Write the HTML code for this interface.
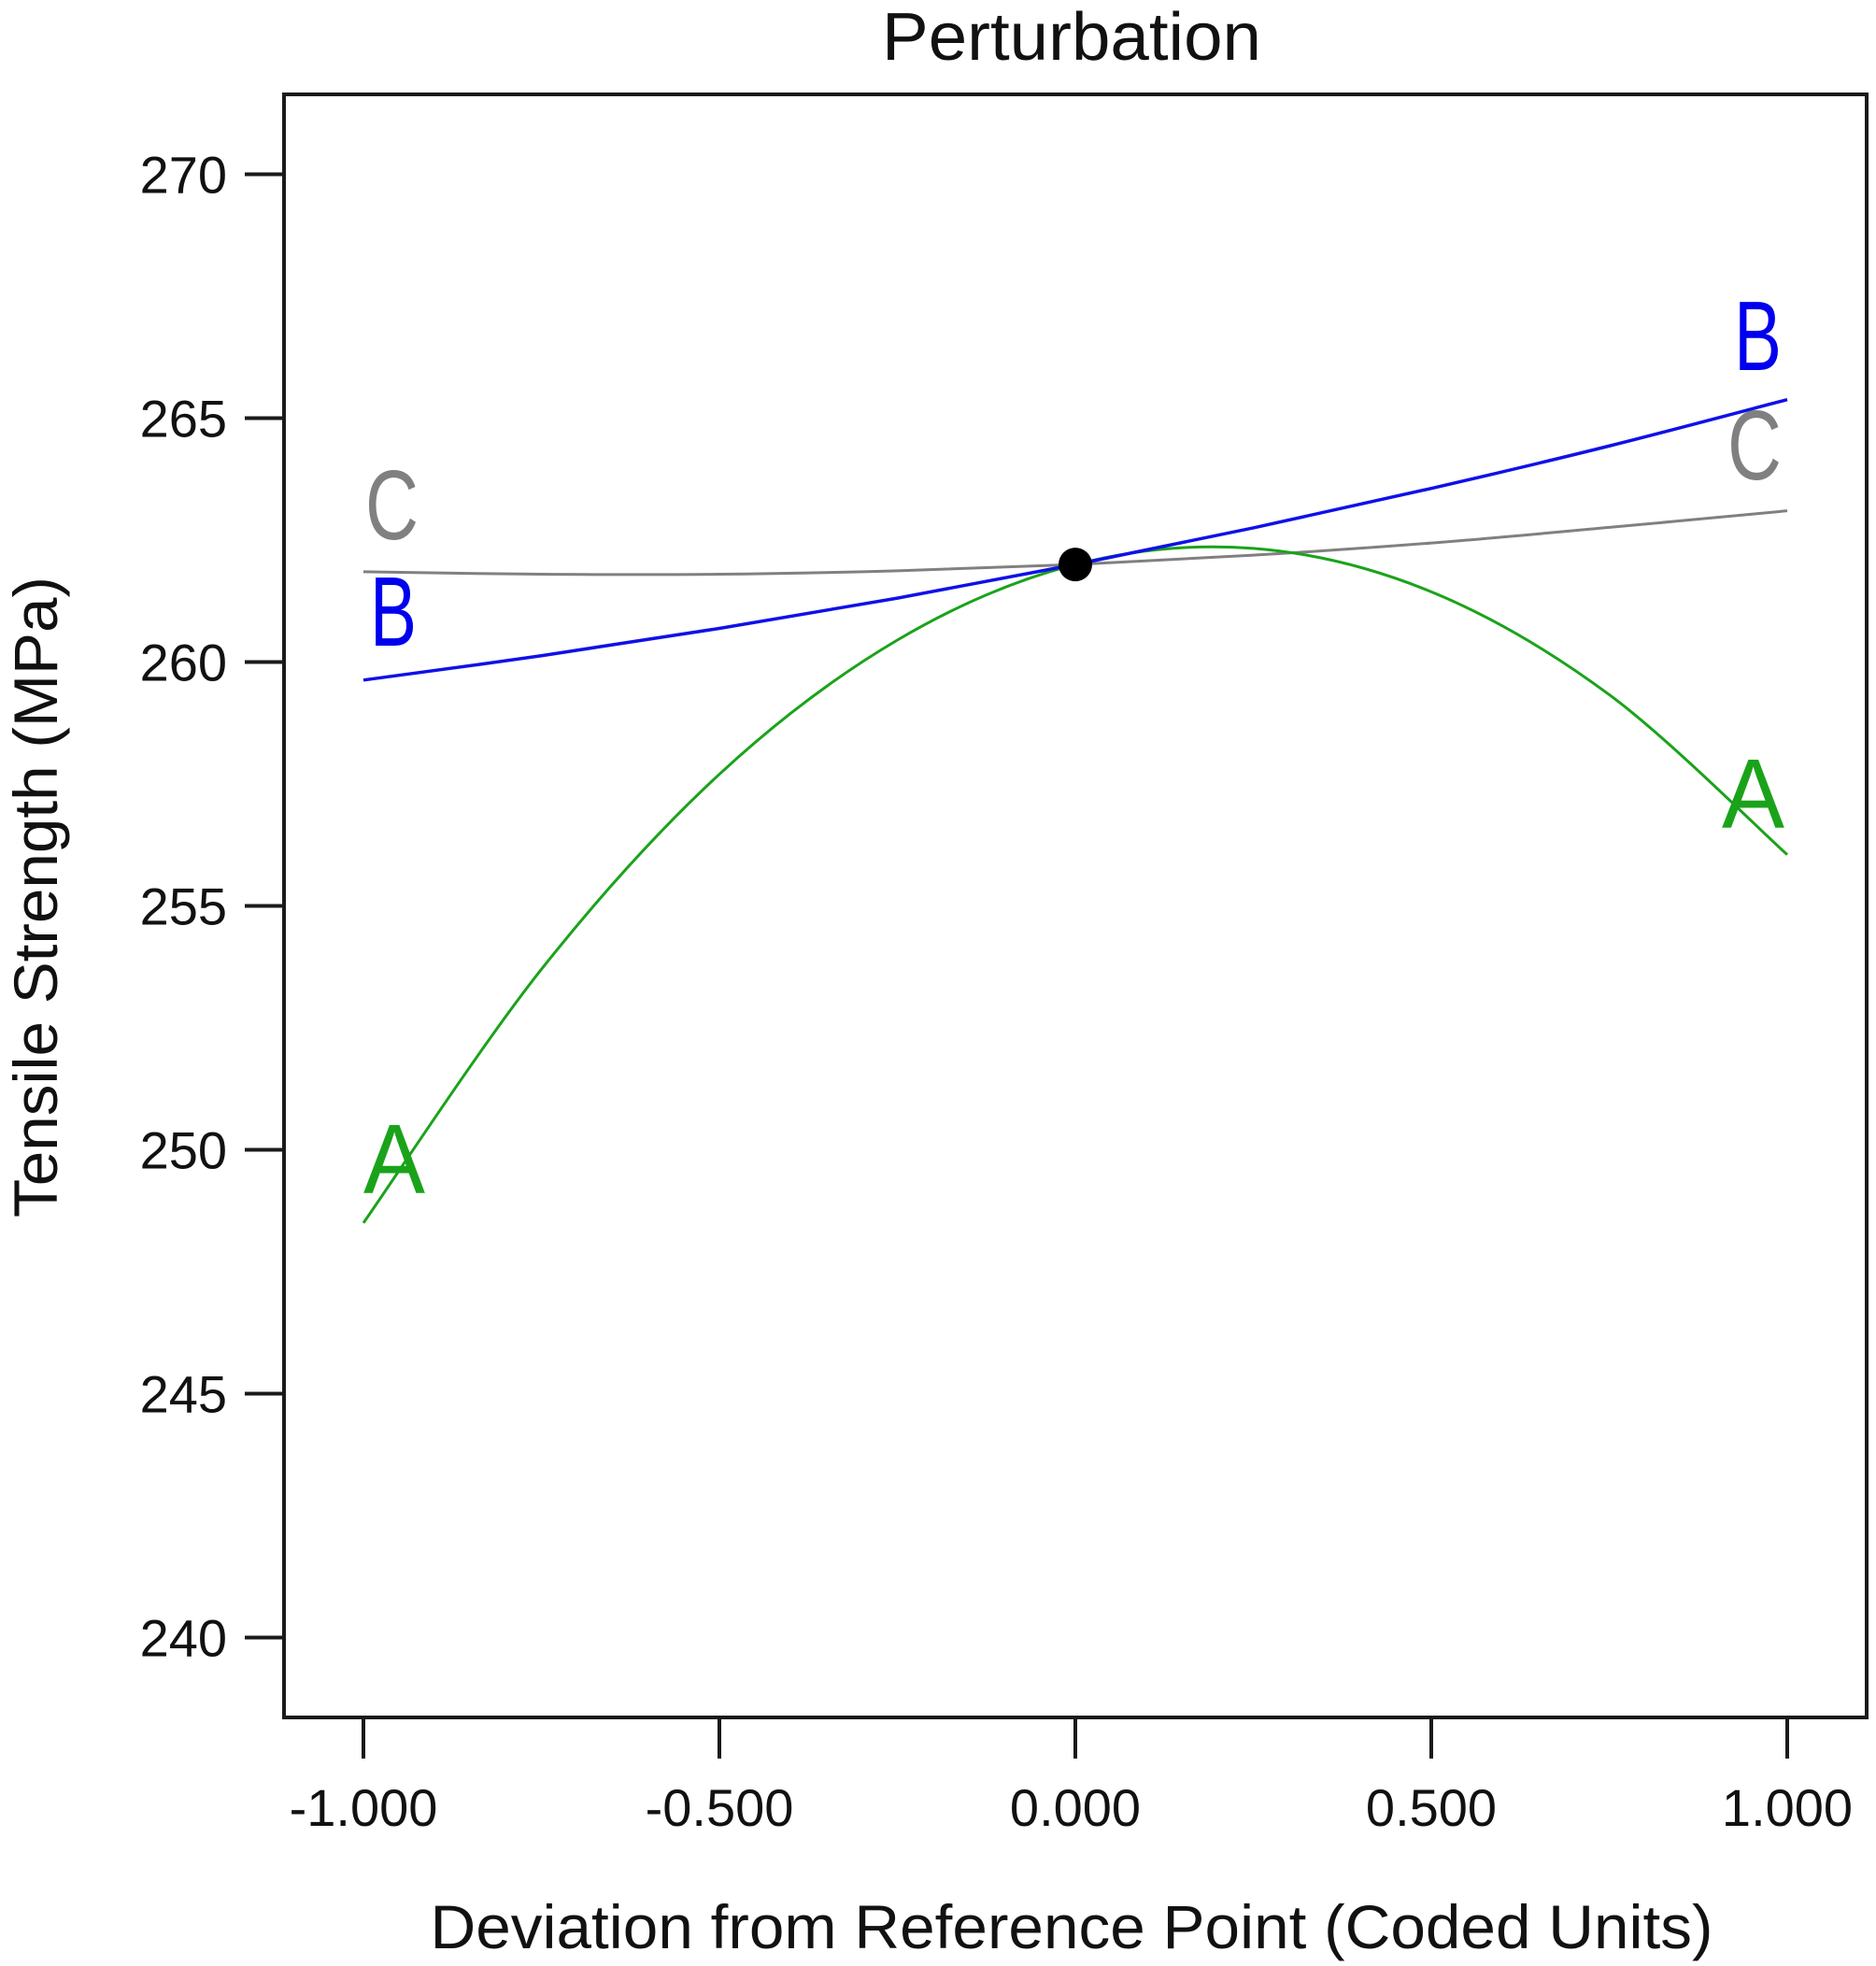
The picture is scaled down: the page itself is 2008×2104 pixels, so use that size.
<!DOCTYPE html>
<html><head><meta charset="utf-8"><style>
html,body{margin:0;padding:0;background:#fff;}
svg{display:block;}
text{font-family:"Liberation Sans",sans-serif;}
</style></head><body>
<svg id="chart" width="2008" height="2104" viewBox="0 0 2008 2104" xmlns="http://www.w3.org/2000/svg">
<rect x="0" y="0" width="2008" height="2104" fill="#fff"/>
<text x="1147" y="64" text-anchor="middle" font-size="72" fill="#111" textLength="406" lengthAdjust="spacingAndGlyphs">Perturbation</text>
<rect x="304" y="101" width="1694" height="1737" fill="none" stroke="#1a1a1a" stroke-width="4"/>
<g id="axes"></g>
<g id="series"></g>
<text transform="translate(61,960) rotate(-90)" text-anchor="middle" font-size="66" fill="#111" textLength="686" lengthAdjust="spacingAndGlyphs">Tensile Strength (MPa)</text>
<text x="1147" y="2085" text-anchor="middle" font-size="66" fill="#111" textLength="1373" lengthAdjust="spacingAndGlyphs">Deviation from Reference Point (Coded Units)</text>
</svg>
<script>
const xValues = [-1, -0.75, -0.5, -0.25, 0, 0.25, 0.5, 0.75, 1];
const seriesA = [248.5, 253.7, 257.7, 260.45, 262.0, 262.33, 261.44, 259.33, 256.05];
const seriesB = [259.63, 260.13, 260.69, 261.31, 262.0, 262.75, 263.56, 264.43, 265.38];
const seriesC = [261.85, 261.8, 261.8, 261.87, 262.0, 262.19, 262.44, 262.76, 263.1];
const xTicks = [-1, -0.5, 0, 0.5, 1];
const xTickLabels = ["-1.000", "-0.500", "0.000", "0.500", "1.000"];
const yTicks = [270, 265, 260, 255, 250, 245, 240];
const yTickLabels = ["270", "265", "260", "255", "250", "245", "240"];
const refPoint = [0, 262.0];

const NS = "http://www.w3.org/2000/svg";
function xs(v){ return 1151 + v * 762; }
function ys(v){ return 186.5 + (270 - v) * 52.2; }
function mk(tag, attrs, parent){
  const e = document.createElementNS(NS, tag);
  for (const k in attrs) e.setAttribute(k, attrs[k]);
  parent.appendChild(e);
  return e;
}
const axes = document.getElementById('axes');
const ser = document.getElementById('series');

xTicks.forEach((t, i) => {
  const l = mk('line', {x1: xs(t), x2: xs(t), y1: 1838, y2: 1882, stroke: '#1a1a1a', 'stroke-width': 4}, axes);
  
  
  const tx = mk('text', {x: xs(t), y: 1954, 'text-anchor': 'middle', 'font-size': 56, fill: '#111'}, axes);
  tx.textContent = xTickLabels[i];
  
  
});
yTicks.forEach((t, i) => {
  const l = mk('line', {x1: 262, x2: 304, y1: ys(t), y2: ys(t), stroke: '#1a1a1a', 'stroke-width': 4}, axes);
  
  
  const tx = mk('text', {x: 243, y: ys(t) + 20, 'text-anchor': 'end', 'font-size': 56, fill: '#111'}, axes);
  tx.textContent = yTickLabels[i];
  
  
});

function smoothPath(vals){
  const p = xValues.map((x, i) => [xs(x), ys(vals[i])]);
  let d = 'M' + p[0][0] + ',' + p[0][1];
  for (let i = 0; i < p.length - 1; i++){
    const p0 = p[Math.max(0, i - 1)], p1 = p[i], p2 = p[i + 1], p3 = p[Math.min(p.length - 1, i + 2)];
    const c1 = [p1[0] + (p2[0] - p0[0]) / 6, p1[1] + (p2[1] - p0[1]) / 6];
    const c2 = [p2[0] - (p3[0] - p1[0]) / 6, p2[1] - (p3[1] - p1[1]) / 6];
    d += ' C' + c1[0] + ',' + c1[1] + ' ' + c2[0] + ',' + c2[1] + ' ' + p2[0] + ',' + p2[1];
  }
  return d;
}
const pC = mk('path', {d: smoothPath(seriesC), fill: 'none', stroke: '#808080', 'stroke-width': 3}, ser);


const pA = mk('path', {d: smoothPath(seriesA), fill: 'none', stroke: '#1aa31a', 'stroke-width': 3}, ser);


const pB = mk('path', {d: smoothPath(seriesB), fill: 'none', stroke: '#1010e8', 'stroke-width': 3.5}, ser);



const dot = mk('circle', {cx: xs(refPoint[0]), cy: ys(refPoint[1]), r: 18, fill: '#000'}, ser);



const labels = [
  ['C', 391, 577, 57, '#808080', 'series-c-label-left'],
  ['B', 396, 691, 50, '#0000ee', 'series-b-label-left'],
  ['A', 389, 1277, 66, '#1aa31a', 'series-a-label-left'],
  ['B', 1856, 396, 51, '#0000ee', 'series-b-label-right'],
  ['C', 1849, 513, 58, '#808080', 'series-c-label-right'],
  ['A', 1843, 886, 67, '#1aa31a', 'series-a-label-right']
];
labels.forEach(lb => {
  const t = mk('text', {x: lb[1], y: lb[2], 'font-size': 106, fill: lb[4], textLength: lb[3], lengthAdjust: 'spacingAndGlyphs'}, ser);
  t.textContent = lb[0];
  
  
});
</script>
</body></html>
